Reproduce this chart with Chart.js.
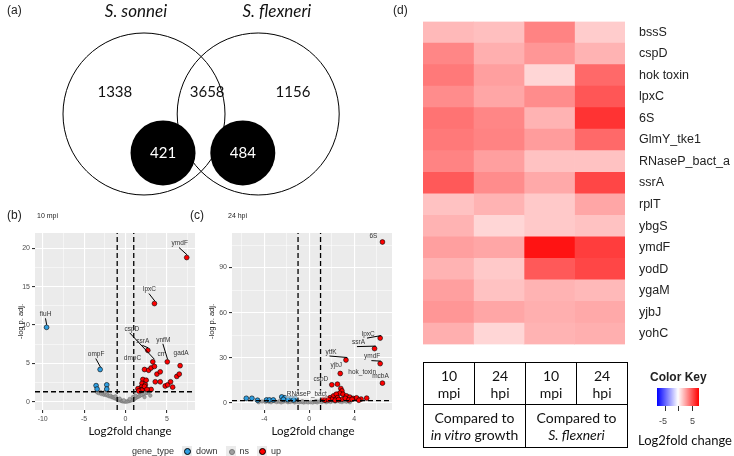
<!DOCTYPE html>
<html lang="en">
<head>
<meta charset="UTF-8" />
<title>Shigella transcriptome figure</title>
<script src="https://cdn.jsdelivr.net/npm/chart.js"></script>
<style>
  body { margin: 0; width: 734px; height: 456px; position: relative; background: #fff; overflow: hidden;
         font-family: "Liberation Sans", Arial, sans-serif; }
  canvas { position: absolute; }
  .txt { position: absolute; white-space: nowrap; }
  .panel { font-size: 12px; color: #222; }
  .sub { font-size: 7px; color: #222; }
  .xt { position: absolute; top: 424px; font-family: Lato, sans-serif; font-size: 11.5px; color: #111; transform: translateX(-50%); white-space: nowrap; }
  #tbl { position: absolute; left: 423px; top: 362px; border-collapse: collapse; font-family: Lato, sans-serif;
         font-size: 14px; line-height: 17px; text-align: center; color: #111; }
  #tbl td { border: 1px solid #000; padding: 0; }
  #key { position: absolute; left: 657px; top: 388px; width: 42px; height: 18px;
         background: linear-gradient(to right, #0000ff, #ffffff 50%, #ff0000); }
  .tick { position: absolute; width: 1px; height: 5px; background: #333; top: 406px; }
  #legend { position: absolute; top: 446px; left: 132px; font-size: 9px; color: #333; display: flex; align-items: center; }
  .lk { display: inline-block; width: 10px; height: 10px; background: #ebebeb; position: relative; margin: 0 4px 0 8px; }
  .lk i { position: absolute; left: 2px; top: 2px; width: 5px; height: 5px; border-radius: 50%; border: 0.5px solid #000; }
</style>
</head>
<body>
  <canvas id="venn" width="360" height="210" style="left:0;top:0"></canvas>
  <canvas id="volB" width="200" height="230" style="left:0;top:220px"></canvas>
  <canvas id="volC" width="215" height="230" style="left:180px;top:220px"></canvas>
  <canvas id="heat" width="354" height="366" style="left:380px;top:0"></canvas>

  <span class="txt panel" style="left:7px;top:3px">(a)</span>
  <span class="txt panel" style="left:7px;top:208px">(b)</span>
  <span class="txt sub" style="left:37px;top:212px">10 mpi</span>
  <span class="txt panel" style="left:190px;top:208px">(c)</span>
  <span class="txt sub" style="left:228px;top:212px">24 hpi</span>
  <span class="txt panel" style="left:393px;top:3px">(d)</span>
  <span class="xt" style="left:130px">Log2fold change</span>
  <span class="xt" style="left:313px">Log2fold change</span>

  <table id="tbl">
    <tr style="height:42px">
      <td style="width:50px">10<br>mpi</td><td style="width:50px">24<br>hpi</td>
      <td style="width:50px">10<br>mpi</td><td style="width:50px">24<br>hpi</td>
    </tr>
    <tr style="height:43px">
      <td colspan="2">Compared to<br><i>in vitro</i> growth</td>
      <td colspan="2">Compared to<br><i>S. flexneri</i></td>
    </tr>
  </table>

  <span class="txt" style="left:650px;top:370px;font-size:12px;font-weight:bold;color:#222">Color Key</span>
  <div id="key"></div>
  <div class="tick" style="left:665px"></div>
  <div class="tick" style="left:678px"></div>
  <div class="tick" style="left:692px"></div>
  <span class="txt" style="left:659px;top:416px;font-size:9px;color:#444">-5</span>
  <span class="txt" style="left:690px;top:416px;font-size:9px;color:#444">5</span>
  <span class="txt" style="left:638px;top:432px;font-size:13px;font-family:Lato,sans-serif;color:#111">Log2fold change</span>

  <div id="legend">
    <span>gene_type</span>
    <span class="lk"><i style="background:#2f9ee0"></i></span><span>down</span>
    <span class="lk"><i style="background:#a0a0a0;border-color:#777;width:4px;height:4px;left:3px;top:3px"></i></span><span>ns</span>
    <span class="lk"><i style="background:#ff0000"></i></span><span>up</span>
  </div>

<script>
  // ---------- (a) Venn ----------
  const vennSetNames = ["S. sonnei", "S. flexneri"];
  const vennCounts = [1338, 3658, 1156];      // sonnei only, shared, flexneri only
  const vennSubCounts = [421, 484];           // black subsets

  // layout (units = circle radius)
  const vennCirclePos = [{ x: 0, y: 0 }, { x: 1.41, y: 0 }];
  const vennSubPos = [{ x: 0.235, y: -0.48 }, { x: 1.22, y: -0.48 }];
  const vennCountPos = [{ x: -0.36, y: 0.27 }, { x: 0.78, y: 0.27 }, { x: 1.84, y: 0.27 }];
  const vennNamePos = [{ x: -0.1, y: 1.26 }, { x: 1.64, y: 1.26 }];

  const vennText = {
    id: "vennText",
    afterDatasetsDraw(chart) {
      const { ctx, scales: { x, y } } = chart;
      ctx.save();
      ctx.textAlign = "center";
      ctx.textBaseline = "middle";
      ctx.fillStyle = "#111";
      ctx.font = "italic 17px Lato";
      vennSetNames.forEach((n, i) => ctx.fillText(n, x.getPixelForValue(vennNamePos[i].x), y.getPixelForValue(vennNamePos[i].y)));
      ctx.font = "15px Lato";
      vennCounts.forEach((n, i) => ctx.fillText(n, x.getPixelForValue(vennCountPos[i].x), y.getPixelForValue(vennCountPos[i].y)));
      ctx.fillStyle = "#fff";
      vennSubCounts.forEach((n, i) => ctx.fillText(n, x.getPixelForValue(vennSubPos[i].x), y.getPixelForValue(vennSubPos[i].y)));
      ctx.restore();
    }
  };

  new Chart(document.getElementById("venn"), {
    type: "bubble",
    data: {
      datasets: [
        { data: vennSubPos.map(p => ({ x: p.x, y: p.y, r: 32.5 })), backgroundColor: "#000", borderWidth: 0 },
        { data: vennCirclePos.map(p => ({ x: p.x, y: p.y, r: 81 })), backgroundColor: "rgba(0,0,0,0)", borderColor: "#000", borderWidth: 1 }
      ]
    },
    options: {
      responsive: false, animation: false, clip: false,
      layout: { padding: 0, autoPadding: false },
      plugins: { legend: { display: false }, tooltip: { enabled: false } },
      scales: {
        x: { type: "linear", display: false, min: -1.778, max: 2.667 },
        y: { type: "linear", display: false, min: -1.185, max: 1.407 }
      }
    },
    plugins: [vennText]
  });

  // ---------- (b) volcano 10 mpi ----------
  const foldCut = [-1, 1];
  const pCut = 1.3;

  const bDown = [[-9.53, 9.7], [-3.06, 4.2], [-3.55, 2.1], [-3.43, 1.65], [-2.26, 2.2], [-2.26, 1.65]];
  const bUp = [[7.4, 18.8], [3.5, 12.8], [2.7, 6.7], [3.3, 5.2], [5.05, 5.2], [6.6, 4.7], [2.3, 4.2], [2.8, 4.1],
    [3.1, 4.4], [3.5, 4.6], [3.8, 3.6], [4.2, 3.9], [2.1, 2.9], [2.5, 2.8], [2.0, 2.4], [2.4, 2.2], [1.9, 1.9],
    [2.2, 1.7], [1.7, 1.6], [1.5, 1.7], [1.8, 1.45], [3.6, 2.6], [4.2, 2.6], [3.1, 1.6], [4.8, 2.05], [5.1, 2.2],
    [5.45, 2.6], [5.7, 1.9], [6.2, 3.3], [6.5, 3.6], [2.0, 1.5], [2.3, 2.0], [1.6, 1.4], [2.6, 1.6]];
  const bNs = [[-3.4, 1.2], [-3.2, 1.1], [-3.0, 1.25], [-2.9, 1.0], [-2.7, 1.1], [-2.6, 0.9], [-2.45, 1.0], [-2.3, 0.85],
    [-2.2, 0.95], [-2.05, 0.75], [-1.9, 0.7], [-1.8, 0.8], [-1.65, 0.6], [-1.5, 0.55], [-1.4, 0.6], [-1.3, 0.45],
    [-1.15, 0.4], [-1.0, 0.35], [-0.9, 0.28], [-0.8, 0.22], [-0.65, 0.18], [-0.5, 0.12], [-0.4, 0.08], [-0.3, 0.05],
    [-0.15, 0.03], [0, 0.01], [0.15, 0.02], [0.3, 0.05], [0.45, 0.1], [0.6, 0.15], [0.7, 0.2], [0.85, 0.25], [1.0, 0.3],
    [1.1, 0.4], [1.25, 0.5], [1.4, 0.6], [1.55, 0.65], [1.7, 0.75], [1.85, 0.85], [2.0, 0.9], [2.2, 1.0], [2.4, 1.1],
    [2.6, 1.15], [2.8, 1.2], [3.0, 0.8], [-1.2, 0.7], [-0.7, 0.4], [0.5, 0.35], [1.2, 0.8], [-2.5, 1.25], [0.9, 0.6],
    [-0.2, 0.2], [2.3, 0.6]];
  const bGenes = ["ymdF", "lpxC", "fiuH", "ompF", "cspD", "ssrA", "ynfM", "crr", "dmpC", "gadA"];
  const bGenePts = [[7.4, 18.8], [3.5, 12.8], [-9.53, 9.7], [-3.06, 4.2], [3.3, 5.2], [2.7, 6.7], [5.05, 5.2], [4.2, 3.9], [2.3, 4.2], [6.6, 4.7]];
  // label offsets in px, and whether a segment is drawn
  const bLabelOff = [[-7, -14, 1], [-5, -14, 1], [-1, -13, 1], [-4, -15, 1], [-21, -33, 1], [-5, -9, 1], [-4, -22, 1], [1, -18, 0], [-12, -11, 0], [1, -12, 0]];

  // ---------- (c) volcano 24 hpi ----------
  const cDown = [[-5.6, 2.9], [-5.1, 2.9], [-4.6, 1.6], [-3.8, 1.8], [-3.55, 1.8], [-3.2, 1.8], [-2.45, 3.8], [-2.16, 3.3],
    [-1.87, 2.9], [-1.56, 2.7], [-1.27, 2.9], [-1.9, 2.0], [-2.3, 2.2], [-1.4, 1.8]];
  const cUp = [[6.5, 107], [6.3, 43], [5.8, 36], [6.3, 26], [6.5, 13], [2.75, 19.4], [3.26, 28.4], [2.0, 11.9], [2.5, 12.3],
    [2.8, 9.4], [2.9, 7.8], [2.7, 6.3], [3.0, 5.6], [3.3, 4.5], [3.6, 3.7], [3.9, 2.8], [4.2, 3.2], [4.6, 2.4], [5.1, 3.0],
    [1.25, 2.2], [1.55, 2.6], [1.85, 3.3], [2.15, 4.5], [2.4, 5.6], [2.0, 2.2], [2.5, 3.3], [2.9, 2.2], [3.2, 2.9],
    [3.5, 1.8], [3.8, 2.2], [1.4, 1.6], [1.7, 1.9], [2.3, 1.6], [2.6, 2.0], [4.4, 1.6]];
  const cNs = [[-4.2, 0.8], [-3.9, 0.5], [-3.6, 0.6], [-3.4, 0.3], [-3.1, 0.9], [-2.9, 0.4], [-2.7, 0.7], [-2.5, 0.2],
    [-2.3, 0.6], [-2.1, 0.9], [-1.9, 0.3], [-1.7, 0.5], [-1.5, 0.8], [-1.3, 0.2], [-1.1, 0.6], [-0.9, 0.3], [-0.7, 0.5],
    [-0.5, 0.1], [-0.3, 0.4], [-0.1, 0.2], [0.1, 0.3], [0.3, 0.1], [0.5, 0.5], [0.7, 0.2], [0.9, 0.7], [1.1, 0.4],
    [1.3, 0.9], [1.5, 0.3], [1.7, 0.8], [1.9, 0.5], [2.1, 1.0], [2.3, 0.6], [2.5, 1.1], [2.7, 0.7], [2.9, 0.4],
    [3.1, 0.9], [3.3, 0.6], [3.6, 0.3], [-4.5, 0.3], [-2.6, 1.1], [-0.6, 0.9], [0.6, 1.0]];
  const cGenes = ["6S", "lpxC", "ssrA", "ymdF", "mcbA", "hok_toxin", "ytfK", "yjbJ", "cspD", "RNaseP_bact"];
  const cGenePts = [[6.5, 107], [6.3, 43], [5.8, 36], [6.3, 26], [6.5, 13], [2.75, 19.4], [3.26, 28.4], [2.75, 19.4], [2.0, 11.9], [1.55, 2.6]];
  const cLabelOff = [[-9, -6, 0], [-12, -4, 1], [-16, -6, 1], [-8, -7, 1], [-2, -7, 0], [22, -1, 0], [-15, -8, 1], [-4, -8, 0], [-11, -6, 0], [-20, -4.5, 0]];

  const geneLabels = {
    id: "geneLabels",
    beforeDraw(chart) {
      const { ctx, chartArea: a } = chart;
      ctx.save();
      ctx.fillStyle = "#ebebeb";
      ctx.fillRect(a.left, a.top, a.right - a.left, a.bottom - a.top);
      ctx.restore();
    },
    afterDatasetsDraw(chart, args, opts) {
      const { ctx, scales: { x, y } } = chart;
      ctx.save();
      ctx.font = "6.5px 'Liberation Sans'";
      ctx.textAlign = "center";
      ctx.textBaseline = "middle";
      opts.genes.forEach((g, i) => {
        const px = x.getPixelForValue(opts.pts[i][0]);
        const py = y.getPixelForValue(opts.pts[i][1]);
        const [dx, dy, seg] = opts.off[i];
        const lx = px + dx, ly = py + dy;
        if (seg) {
          ctx.strokeStyle = "#000";
          ctx.lineWidth = 1;
          ctx.beginPath();
          ctx.moveTo(lx + dx * 0.1, ly + 4);
          ctx.lineTo(px - dx * 0.08, py - 2.5);
          ctx.stroke();
        }
        if (g === "RNaseP_bact") {
          const w = ctx.measureText(g).width;
          ctx.fillStyle = "rgba(255,255,255,0.55)";
          ctx.fillRect(lx - w / 2 - 1, ly - 4, w + 2, 8);
        }
        ctx.fillStyle = "#333";
        ctx.fillText(g, lx, ly);
      });
      ctx.restore();
    }
  };

  function volcano(id, d) {
    const pts = arr => arr.map(p => ({ x: p[0], y: p[1] }));
    const dash = { showLine: true, borderColor: "#000", borderWidth: 1.3, borderDash: [5, 3], pointRadius: 0, fill: false };
    return new Chart(document.getElementById(id), {
      type: "scatter",
      data: {
        datasets: [
          { ...dash, data: [{ x: foldCut[0], y: d.ymin }, { x: foldCut[0], y: d.ymax }] },
          { ...dash, data: [{ x: foldCut[1], y: d.ymin }, { x: foldCut[1], y: d.ymax }] },
          { ...dash, data: [{ x: d.xmin, y: pCut }, { x: d.xmax, y: pCut }] },
          { label: "up", data: pts(d.up), backgroundColor: "#ff0000", borderColor: "#000", borderWidth: 0.6, pointRadius: 2.4 },
          { label: "down", data: pts(d.down), backgroundColor: "#2f9ee0", borderColor: "#000", borderWidth: 0.6, pointRadius: 2.4 },
          { label: "ns", data: pts(d.ns), backgroundColor: "#a0a0a0", borderColor: "#666", borderWidth: 0.4, pointRadius: 1.8 }
        ]
      },
      options: {
        responsive: false, animation: false,
        layout: { padding: { left: 0, top: 13, right: d.padRight, bottom: 0 }, autoPadding: false },
        plugins: {
          legend: { display: false }, tooltip: { enabled: false },
          geneLabels: { genes: d.genes, pts: d.genePts, off: d.off }
        },
        scales: {
          x: {
            type: "linear", min: d.xmin, max: d.xmax,
            afterBuildTicks: s => { s.ticks = d.xTicks.map(v => ({ value: v })); },
            afterFit: s => { s.height = 40; },
            border: { display: false },
            grid: {
              color: "#fff", tickLength: 3,
              lineWidth: c => (d.xMajor.includes(c.tick.value) ? 1.1 : 0.5),
              tickColor: c => (d.xMajor.includes(c.tick.value) ? "#333" : "rgba(0,0,0,0)")
            },
            ticks: {
              font: { size: 7, family: "Liberation Sans" }, color: "#4d4d4d", padding: 2, maxRotation: 0, autoSkip: false,
              callback: v => (d.xMajor.includes(v) ? String(v) : "")
            }
          },
          y: {
            type: "linear", min: d.ymin, max: d.ymax,
            afterBuildTicks: s => { s.ticks = d.yTicks.map(v => ({ value: v })); },
            afterFit: s => { s.width = d.yAxisW; },
            border: { display: false },
            grid: {
              color: "#fff", tickLength: 3,
              lineWidth: c => (d.yMajor.includes(c.tick.value) ? 1.1 : 0.5),
              tickColor: c => (d.yMajor.includes(c.tick.value) ? "#333" : "rgba(0,0,0,0)")
            },
            ticks: {
              font: { size: 7, family: "Liberation Sans" }, color: "#4d4d4d", padding: 2, autoSkip: false,
              callback: v => (d.yMajor.includes(v) ? String(v) : "")
            },
            title: { display: true, text: "-log p. adj.", font: { size: 7.5, family: "Liberation Sans" }, color: "#222", padding: { top: d.yTitlePad, bottom: 0 } }
          }
        }
      },
      plugins: [geneLabels]
    });
  }

  volcano("volB", {
    up: bUp, down: bDown, ns: bNs, genes: bGenes, genePts: bGenePts, off: bLabelOff,
    xmin: -10.93, xmax: 8.4, ymin: -1.08, ymax: 22.0,
    xTicks: [-10, -7.5, -5, -2.5, 0, 2.5, 5, 7.5], xMajor: [-10, -5, 0, 5],
    yTicks: [0, 2.5, 5, 7.5, 10, 12.5, 15, 17.5, 20], yMajor: [0, 5, 10, 15, 20],
    yAxisW: 35, yTitlePad: 16, padRight: 5
  });

  volcano("volC", {
    up: cUp, down: cDown, ns: cNs, genes: cGenes, genePts: cGenePts, off: cLabelOff,
    xmin: -6.87, xmax: 7.35, ymin: -4.9, ymax: 113,
    xTicks: [-6, -4, -2, 0, 2, 4, 6], xMajor: [-4, 0, 4],
    yTicks: [0, 15, 30, 45, 60, 75, 90, 105], yMajor: [0, 30, 60, 90],
    yAxisW: 52, yTitlePad: 27, padRight: 3
  });

  // ---------- (d) heatmap ----------
  const genes = ["bssS", "cspD", "hok toxin", "lpxC", "6S", "GlmY_tke1", "RNaseP_bact_a", "ssrA", "rplT", "ybgS",
    "ymdF", "yodD", "ygaM", "yjbJ", "yohC"];
  const conditions = ["10 mpi vs in vitro", "24 hpi vs in vitro", "10 mpi vs S. flexneri", "24 hpi vs S. flexneri"];
  const fcVitro10 = [2.2, 3.8, 4.2, 3.6, 4.4, 4.2, 3.9, 5.2, 1.9, 2.4, 3.0, 2.4, 3.0, 3.3, 2.5];
  const fcVitro24 = [2.0, 2.5, 3.0, 2.8, 3.8, 3.9, 3.0, 3.6, 2.4, 1.3, 2.8, 1.7, 1.9, 2.8, 1.3];
  const fcFlex10 = [3.9, 3.3, 1.3, 3.6, 2.4, 3.1, 1.9, 2.7, 1.7, 1.7, 7.4, 5.2, 2.4, 2.5, 2.4];
  const fcFlex24 = [1.6, 2.4, 4.7, 5.3, 6.4, 4.7, 1.9, 5.8, 2.8, 1.9, 6.1, 5.8, 2.2, 2.7, 2.5];
  const fcMax = 8;

  function fcColor(v) {
    const t = Math.min(Math.abs(v) / fcMax, 1);
    const c = Math.round(255 * (1 - t));
    return v >= 0 ? `rgb(255,${c},${c})` : `rgb(${c},${c},255)`;
  }

  new Chart(document.getElementById("heat"), {
    type: "bar",
    data: {
      labels: genes,
      datasets: [fcVitro10, fcVitro24, fcFlex10, fcFlex24].map((fc, i) => ({
        label: conditions[i],
        data: fc.map(() => 1),
        backgroundColor: fc.map(fcColor),
        borderWidth: 0, barPercentage: 1, categoryPercentage: 1
      }))
    },
    options: {
      indexAxis: "y", responsive: false, animation: false,
      layout: { padding: { left: 43, top: 4, bottom: 3, right: 0 } },
      plugins: { legend: { display: false }, tooltip: { enabled: false } },
      scales: {
        x: { stacked: true, display: false, min: 0, max: 4 },
        y: {
          stacked: true, position: "right",
          afterFit: s => { s.width = 109; },
          grid: { display: false, drawTicks: false }, border: { display: false },
          ticks: { font: { size: 12.5, family: "Liberation Sans" }, color: "#222", padding: 14 }
        }
      }
    }
  });
</script>
</body>
</html>
